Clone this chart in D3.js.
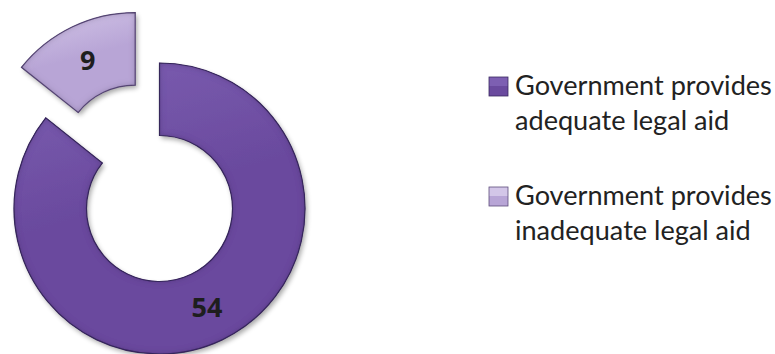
<!DOCTYPE html>
<html>
<head>
<meta charset="utf-8">
<script src="https://cdn.jsdelivr.net/npm/d3@7"></script>
<style>
  html, body { margin: 0; padding: 0; background: #fff; }
  svg { display: block; }
</style>
</head>
<body>
<svg id="chart" width="775" height="354"></svg>
<script>
// Survey responses on legal aid
const categories = [
  "Government provides adequate legal aid",
  "Government provides inadequate legal aid"
];
const values = [54, 9];
const legendLines = [
  ["Government provides", "adequate legal aid"],
  ["Government provides", "inadequate legal aid"]
];
const baseColors = ["#6a4a9e", "#b8a5d6"];
const lightColors = ["#7d5fb2", "#d3c6e8"];
const edgeColors = ["#3b2a60", "#5e4d7c"];

const svg = d3.select("#chart");
const W = 775, H = 354;

const cx = 159.5, cy = 208.5;
const outerR = 145.5, innerR = 73;
const explode = [0, 56];

const defs = svg.append("defs");

// Soft shadow under each piece
const shadow = defs.append("filter").attr("id", "shadow")
  .attr("x", "-20%").attr("y", "-20%").attr("width", "140%").attr("height", "140%");
shadow.append("feGaussianBlur").attr("in", "SourceAlpha").attr("stdDeviation", 2.5).attr("result", "b");
shadow.append("feOffset").attr("in", "b").attr("dx", 2).attr("dy", 3).attr("result", "o");
shadow.append("feComponentTransfer").attr("in", "o").attr("result", "s")
  .append("feFuncA").attr("type", "linear").attr("slope", 0.35);
const merge = shadow.append("feMerge");
merge.append("feMergeNode").attr("in", "s");
merge.append("feMergeNode").attr("in", "SourceGraphic");

// Inner bevel: blurred alpha edge darkened along the rim
const bevel = defs.append("filter").attr("id", "bevel")
  .attr("x", "-10%").attr("y", "-10%").attr("width", "120%").attr("height", "120%");
bevel.append("feGaussianBlur").attr("in", "SourceAlpha").attr("stdDeviation", 3).attr("result", "blur");
bevel.append("feComposite").attr("in", "SourceAlpha").attr("in2", "blur")
  .attr("operator", "arithmetic").attr("k2", 1).attr("k3", -1).attr("result", "rim");
bevel.append("feFlood").attr("flood-color", "#2a1a48").attr("flood-opacity", 0.55).attr("result", "c");
bevel.append("feComposite").attr("in", "c").attr("in2", "rim").attr("operator", "in").attr("result", "rimC");
const bm = bevel.append("feMerge");
bm.append("feMergeNode").attr("in", "SourceGraphic");
bm.append("feMergeNode").attr("in", "rimC");

values.forEach((v, i) => {
  const g = defs.append("linearGradient").attr("id", "grad" + i)
    .attr("x1", "0").attr("y1", "0").attr("x2", "0.3").attr("y2", "1");
  g.append("stop").attr("offset", "0%").attr("stop-color", lightColors[i]);
  g.append("stop").attr("offset", "55%").attr("stop-color", baseColors[i]);
  g.append("stop").attr("offset", "100%").attr("stop-color", baseColors[i]);

  const lg = defs.append("linearGradient").attr("id", "lgrad" + i)
    .attr("x1", "0").attr("y1", "0").attr("x2", "0").attr("y2", "1");
  lg.append("stop").attr("offset", "0%").attr("stop-color", lightColors[i]);
  lg.append("stop").attr("offset", "45%").attr("stop-color", lightColors[i]);
  lg.append("stop").attr("offset", "50%").attr("stop-color", baseColors[i]);
  lg.append("stop").attr("offset", "100%").attr("stop-color", baseColors[i]);
});

const pie = d3.pie().sort(null).value(d => d)
  .startAngle(0).endAngle(2 * Math.PI);
const arcs = pie(values);
const arc = d3.arc().innerRadius(innerR).outerRadius(outerR);

const gPie = svg.append("g").attr("transform", `translate(${cx},${cy})`);

const slices = gPie.selectAll("g.slice").data(arcs).join("g")
  .attr("class", "slice")
  .attr("transform", (d, i) => {
    const a = (d.startAngle + d.endAngle) / 2;
    const k = explode[i];
    return `translate(${k * Math.sin(a)},${-k * Math.cos(a)})`;
  });

slices.append("path")
  .attr("d", arc)
  .attr("fill", (d, i) => `url(#grad${i})`)
  .attr("filter", "url(#shadow)");

slices.append("path")
  .attr("d", arc)
  .attr("fill", (d, i) => `url(#grad${i})`)
  .attr("filter", "url(#bevel)")
  .attr("stroke", (d, i) => edgeColors[i])
  .attr("stroke-width", 1.2);

slices.append("text")
  .attr("transform", d => `translate(${arc.centroid(d)})`)
  .attr("text-anchor", "middle")
  .attr("dominant-baseline", "central")
  .attr("font-family", "'Open Sans', 'Liberation Sans', sans-serif")
  .attr("font-weight", "bold")
  .attr("font-size", 27)
  .attr("fill", "#1e1e1e")
  .text(d => d.data);

// Legend
const legendX = 489, textX = 515;
const entryY = [95, 205];
const lineGap = 35;
const fontFamily = "Lato, 'Open Sans', sans-serif";

const probe = svg.append("text").attr("font-family", fontFamily)
  .attr("font-size", 28).text(legendLines[0][0]);
const probeW = probe.node().getComputedTextLength();
probe.remove();
const legendFont = 28 * 257 / probeW;

const legend = svg.append("g");
categories.forEach((c, i) => {
  const g = legend.append("g");
  g.append("rect")
    .attr("x", legendX).attr("y", entryY[i] - 18)
    .attr("width", 19).attr("height", 19)
    .attr("fill", `url(#lgrad${i})`)
    .attr("stroke", edgeColors[i]).attr("stroke-width", 0.8);
  const t = g.append("text")
    .attr("font-family", fontFamily)
    .attr("font-size", legendFont)
    .attr("fill", "#222");
  legendLines[i].forEach((line, j) => {
    t.append("tspan").attr("x", textX).attr("y", entryY[i] + j * lineGap).text(line);
  });
});
</script>
</body>
</html>
